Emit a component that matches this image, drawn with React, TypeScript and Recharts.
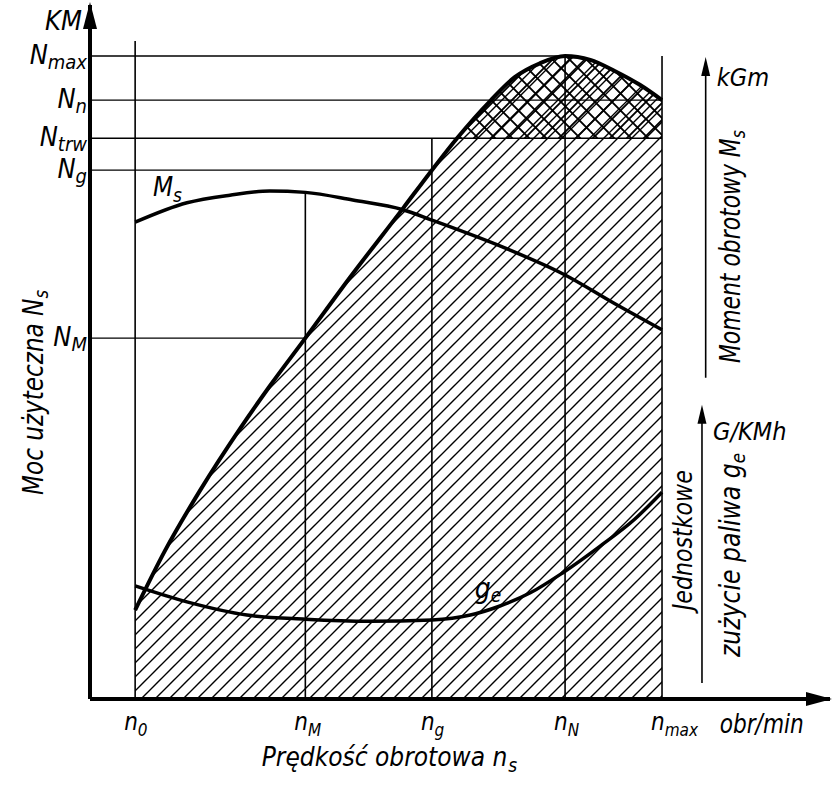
import React from "react";
import { ComposedChart, Area, Line, XAxis, YAxis, ReferenceLine, ReferenceDot } from "recharts";

const FONT = "'DejaVu Sans Condensed', 'Liberation Sans Narrow', 'DejaVu Sans', sans-serif";

// engine speed marks (x): n0, nM, ng, nN, nmax
const speedTicks = [6.1, 29.1, 46.2, 64.2, 77.3];
const speedSubs = ["0", "M", "g", "N", "max"];
const speedGuideTop = [94.8, 73.1, 80.8, 92.65, 92.65];

// power levels (y): Nmax, Nn, Ntrw, Ng, NM
const powerTicks = [92.65, 86.3, 80.8, 76.2, 52.0];
const powerSubs = ["max", "n", "trw", "g", "M"];
const powerGuideEnd = [64.2, 77.3, 77.3, 46.2, 29.1];
const N_TRW = 80.8;

// useful power N_s
const nX = [6.1, 10.1, 14.9, 20.3, 24.3, 29.1, 35.1, 42.3, 46.2, 49.6, 54.1, 57.4, 60.8, 64.2, 67.6, 70.9, 74.3, 77.3];
const nY = [12.8, 21.3, 30.1, 39.0, 45.1, 52.0, 60.7, 70.7, 76.2, 80.8, 86.2, 89.6, 91.6, 92.65, 92.1, 90.5, 88.5, 86.3];

// torque M_s
const msX = [6.1, 13.1, 18.9, 24.3, 29.1, 35.5, 42.3, 46.2, 55.8, 64.2, 70.7, 77.3];
const msY = [68.7, 71.5, 72.6, 73.2, 73.0, 71.9, 70.5, 69.0, 65.1, 61.1, 57.1, 53.2];

// specific fuel consumption g_e
const geX = [6.1, 13.1, 21.2, 29.1, 37.8, 46.2, 51.4, 55.4, 59.5, 63.9, 68.9, 73.6, 77.3];
const geY = [16.3, 14.0, 12.1, 11.5, 11.2, 11.4, 12.1, 13.4, 15.3, 18.2, 22.0, 25.9, 29.8];

const nData = nX.map((x, i) => ({ x, n: nY[i] }));
const crossData = nData.filter((d) => d.n >= N_TRW && d.x >= 49.6).map((d) => ({ x: d.x, band: [N_TRW, d.n] }));
const msData = msX.map((x, i) => ({ x, m: msY[i] }));
const geData = geX.map((x, i) => ({ x, g: geY[i] }));

const XTick = (props: any) => {
  const { x, y, payload } = props;
  const i = speedTicks.indexOf(payload.value);
  return (
    <text x={x - 11} y={y + 31} fontFamily={FONT} fontStyle="italic" fontSize={24} fill="#000">
      n
      <tspan fontSize={17} dy={6}>{speedSubs[i]}</tspan>
    </text>
  );
};

const YTick = (props: any) => {
  const { x, y, payload } = props;
  const i = powerTicks.indexOf(payload.value);
  return (
    <text x={x - 3} y={y + 8} textAnchor="end" fontFamily={FONT} fontStyle="italic" fontSize={27} fill="#000">
      N
      <tspan fontSize={20} dy={5}>{powerSubs[i]}</tspan>
    </text>
  );
};

const label = (content: (cx: number, cy: number) => React.ReactNode) => (p: any) => <g>{content(p.cx, p.cy)}</g>;

const txt = { fontFamily: FONT, fontStyle: "italic" as const, fill: "#000" };

export default function App() {
  return (
    <div style={{ position: "absolute", left: 0, top: 0, background: "#fff" }}>
      <ComposedChart width={837} height={787} margin={{ top: 5, right: 7, bottom: 0, left: 0 }}>
        <defs>
          <pattern id="hatch" patternUnits="userSpaceOnUse" width="14" height="14">
            <path d="M-2,2 L2,-2 M0,14 L14,0 M12,16 L16,12" stroke="#000" strokeWidth={1.4} />
          </pattern>
          <pattern id="cross" patternUnits="userSpaceOnUse" width="17" height="17">
            <path
              d="M-2,2 L2,-2 M0,17 L17,0 M15,19 L19,15 M0,0 L17,17 M-2,15 L2,19 M15,-2 L19,2"
              stroke="#000"
              strokeWidth={1.9}
            />
          </pattern>
        </defs>
        <XAxis
          type="number"
          dataKey="x"
          domain={[0, 100]}
          ticks={speedTicks}
          tick={<XTick />}
          tickLine={false}
          tickSize={0}
          tickMargin={0}
          height={88}
          axisLine={{ stroke: "#000", strokeWidth: 4 }}
          allowDataOverflow
        />
        <YAxis
          type="number"
          domain={[0, 100]}
          ticks={powerTicks}
          tick={<YTick />}
          tickLine={false}
          tickSize={0}
          tickMargin={0}
          width={90}
          axisLine={{ stroke: "#000", strokeWidth: 4 }}
          allowDataOverflow
        />

        <Area data={nData} dataKey="n" type="monotone" fill="url(#hatch)" fillOpacity={1} stroke="none" isAnimationActive={false} />
        <Area data={crossData} dataKey="band" type="monotone" fill="url(#cross)" fillOpacity={1} stroke="none" isAnimationActive={false} />

        {speedTicks.map((x, i) => (
          <ReferenceLine key={"v" + i} segment={[{ x, y: 0 }, { x, y: speedGuideTop[i] }]} stroke="#000" strokeWidth={1.6} />
        ))}
        {powerTicks.map((y, i) => (
          <ReferenceLine key={"h" + i} segment={[{ x: 0, y }, { x: powerGuideEnd[i], y }]} stroke="#000" strokeWidth={1.4} />
        ))}

        <Line data={nData} dataKey="n" type="monotone" stroke="#000" strokeWidth={4} dot={false} isAnimationActive={false} />
        <Line data={msData} dataKey="m" type="monotone" stroke="#000" strokeWidth={3.5} dot={false} isAnimationActive={false} />
        <Line data={geData} dataKey="g" type="monotone" stroke="#000" strokeWidth={3.5} dot={false} isAnimationActive={false} />

        {/* secondary scale arrows */}
        <ReferenceLine segment={[{ x: 83.2, y: 46.3 }, { x: 83.2, y: 90 }]} stroke="#000" strokeWidth={1.6} />
        <ReferenceLine segment={[{ x: 82.7, y: 2.3 }, { x: 82.7, y: 40 }]} stroke="#000" strokeWidth={1.6} />
        <ReferenceDot x={83.2} y={92.5} ifOverflow="visible" shape={label((cx, cy) => (
          <path d={`M${cx},${cy} L${cx - 4.5},${cy + 19} L${cx + 4.5},${cy + 19} Z`} fill="#000" />
        ))} />
        <ReferenceDot x={82.7} y={42.4} ifOverflow="visible" shape={label((cx, cy) => (
          <path d={`M${cx},${cy} L${cx - 4.5},${cy + 19} L${cx + 4.5},${cy + 19} Z`} fill="#000" />
        ))} />

        {/* main axis arrow heads */}
        <ReferenceDot x={0} y={100} ifOverflow="visible" shape={label((cx, cy) => (
          <path d={`M${cx},${cy - 3} L${cx - 7},${cy + 24} L${cx + 7},${cy + 24} Z`} fill="#000" />
        ))} />
        <ReferenceDot x={100} y={0} ifOverflow="visible" shape={label((cx, cy) => (
          <path d={`M${cx + 2},${cy} L${cx - 24},${cy - 7} L${cx - 24},${cy + 7} Z`} fill="#000" />
        ))} />

        {/* texts */}
        <ReferenceDot x={-1.1} y={96.4} ifOverflow="visible" shape={label((cx, cy) => (
          <text x={cx} y={cy} textAnchor="end" fontSize={27} {...txt}>KM</text>
        ))} />
        <ReferenceDot x={8.5} y={72.5} ifOverflow="visible" shape={label((cx, cy) => (
          <text x={cx} y={cy} fontSize={26} {...txt}>M<tspan fontSize={19} dy={6}>s</tspan></text>
        ))} />
        <ReferenceDot x={52.0} y={14.6} ifOverflow="visible" shape={label((cx, cy) => (
          <text x={cx} y={cy} fontSize={28} {...txt}>g<tspan fontSize={19} dy={4}>e</tspan></text>
        ))} />
        <ReferenceDot x={84.7} y={88.3} ifOverflow="visible" shape={label((cx, cy) => (
          <text x={cx} y={cy} fontSize={25} {...txt}>kGm</text>
        ))} />
        <ReferenceDot x={84.2} y={37.3} ifOverflow="visible" shape={label((cx, cy) => (
          <text x={cx} y={cy} fontSize={25} {...txt}>G/KMh</text>
        ))} />
        <ReferenceDot x={87.8} y={48.4} ifOverflow="visible" shape={label((cx, cy) => (
          <text x={cx} y={cy} transform={`rotate(-90 ${cx} ${cy})`} fontSize={28} textLength={233} lengthAdjust="spacingAndGlyphs" {...txt}>
            Moment obrotowy M<tspan fontSize={20} dy={5}>s</tspan>
          </text>
        ))} />
        <ReferenceDot x={81.4} y={12.8} ifOverflow="visible" shape={label((cx, cy) => (
          <text x={cx} y={cy} transform={`rotate(-90 ${cx} ${cy})`} fontSize={27} textLength={140} lengthAdjust="spacingAndGlyphs" {...txt}>
            Jednostkowe
          </text>
        ))} />
        <ReferenceDot x={87.8} y={6.05} ifOverflow="visible" shape={label((cx, cy) => (
          <text x={cx} y={cy} transform={`rotate(-90 ${cx} ${cy})`} fontSize={28} textLength={204} lengthAdjust="spacingAndGlyphs" {...txt}>
            zużycie paliwa g<tspan fontSize={20} dy={5}>e</tspan>
          </text>
        ))} />
        <ReferenceDot x={-6.35} y={29.4} ifOverflow="visible" shape={label((cx, cy) => (
          <text x={cx} y={cy} transform={`rotate(-90 ${cx} ${cy})`} fontSize={28} textLength={205} lengthAdjust="spacingAndGlyphs" {...txt}>
            Moc użyteczna N<tspan fontSize={20} dy={5}>s</tspan>
          </text>
        ))} />
        <ReferenceDot x={85.1} y={-4.9} ifOverflow="visible" shape={label((cx, cy) => (
          <text x={cx} y={cy} fontSize={26} textLength={84} lengthAdjust="spacingAndGlyphs" {...txt}>obr/min</text>
        ))} />
        <ReferenceDot x={23.2} y={-9.65} ifOverflow="visible" shape={label((cx, cy) => (
          <text x={cx} y={cy} fontSize={26} {...txt}>
            Prędkość obrotowa n<tspan fontSize={19} dy={6} dx={1}>s</tspan>
          </text>
        ))} />
      </ComposedChart>
    </div>
  );
}
